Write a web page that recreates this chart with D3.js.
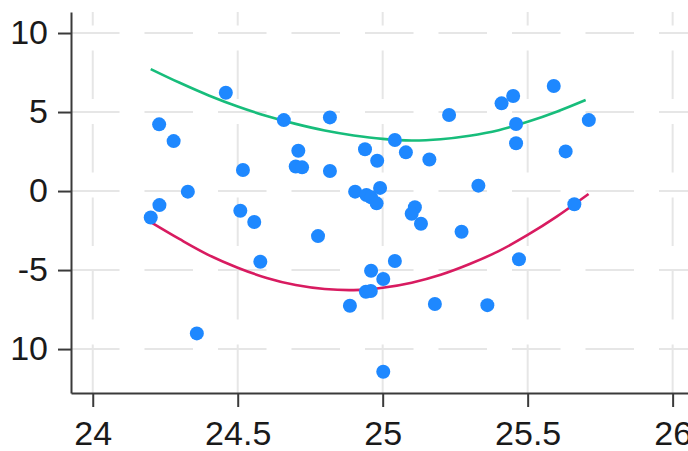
<!DOCTYPE html>
<html>
<head>
<meta charset="utf-8">
<script src="https://cdn.jsdelivr.net/npm/d3@7"></script>
<style>
  html, body { margin: 0; padding: 0; background: #fff; }
  svg { display: block; }
</style>
</head>
<body>
<svg id="chart" width="688" height="451"></svg>
<script>
// ---- data ----
const pointX = [24.459,24.229,24.279,24.518,24.328,24.230,24.200,24.509,24.557,24.659,
  24.818,24.709,24.700,24.722,24.818,24.939,24.981,25.042,25.080,25.161,
  25.229,24.905,24.944,24.960,24.991,24.979,25.111,25.100,25.132,24.777,
  25.410,25.450,25.590,25.460,25.711,25.460,25.631,25.330,25.661,25.272,
  25.470,25.361,24.578,24.359,25.042,24.960,25.002,24.942,24.959,24.887,
  25.180,25.002];
const pointY = [6.22,4.22,3.16,1.33,-0.04,-0.89,-1.67,-1.25,-1.96,4.49,
  4.66,2.55,1.55,1.50,1.27,2.64,1.92,3.23,2.45,2.00,
  4.81,-0.04,-0.25,-0.40,0.20,-0.78,-1.03,-1.44,-2.07,-2.85,
  5.55,6.01,6.65,4.24,4.49,3.02,2.51,0.34,-0.84,-2.58,
  -4.32,-7.22,-4.47,-9.01,-4.43,-5.04,-5.57,-6.37,-6.33,-7.26,
  -7.15,-11.44];

const upperX = [24.20,24.30,24.40,24.50,24.60,24.70,24.80,24.90,25.00,25.10,25.20,25.30,25.40,25.50,25.60,25.70];
const upperY = [7.72,6.85,6.05,5.35,4.75,4.25,3.83,3.52,3.30,3.20,3.28,3.50,3.85,4.38,5.02,5.76];

const lowerX = [24.20,24.30,24.40,24.50,24.60,24.70,24.80,24.90,25.00,25.10,25.20,25.30,25.40,25.50,25.60,25.71];
const lowerY = [-1.97,-3.05,-4.05,-4.85,-5.50,-5.95,-6.20,-6.27,-6.12,-5.80,-5.30,-4.62,-3.80,-2.78,-1.62,-0.19];

const xTicks = [24,24.5,25,25.5,26];
const xTickLabels = ["24","24.5","25","25.5","26"];
const yTicks = [10,5,0,-5,-10];
const yTickLabels = ["10","5","0","-5","10"];

(function () {
// ---- layout ----
const svg = d3.select("#chart");
const W = 688, H = 451;
const mLeft = 71, mTop = 12, mBottom = 393, mRight = 688;

const x = d3.scaleLinear().domain([23.925, 26.053]).range([mLeft, mRight]);
const y = d3.scaleLinear().domain([-12.78, 11.33]).range([mBottom, mTop]);

svg.append("rect").attr("width", W).attr("height", H).attr("fill", "#fff");

const gridColor = "#e6e6e6";
const dash = "48.5,25";
// horizontal grid
svg.append("g").selectAll("line").data(yTicks).join("line")
  .attr("x1", mLeft).attr("x2", mRight)
  .attr("y1", d => y(d)).attr("y2", d => y(d))
  .attr("stroke", gridColor).attr("stroke-width", 2)
  .attr("stroke-dasharray", dash);
// vertical grid (drawn bottom -> top)
svg.append("g").selectAll("line").data(xTicks).join("line")
  .attr("x1", d => x(d)).attr("x2", d => x(d))
  .attr("y1", mBottom).attr("y2", mTop)
  .attr("stroke", gridColor).attr("stroke-width", 2)
  .attr("stroke-dasharray", dash);

// fit bounds
const line = d3.line().x(d => x(d[0])).y(d => y(d[1])).curve(d3.curveCatmullRom);
svg.append("path").datum(upperX.map((v,i) => [v, upperY[i]]))
  .attr("d", line).attr("fill", "none").attr("stroke", "#17bd7b").attr("stroke-width", 2.6);
svg.append("path").datum(lowerX.map((v,i) => [v, lowerY[i]]))
  .attr("d", line).attr("fill", "none").attr("stroke", "#d81b60").attr("stroke-width", 2.6);

// points
svg.append("g").selectAll("circle").data(pointX.map((v,i) => [v, pointY[i]])).join("circle")
  .attr("cx", d => x(d[0])).attr("cy", d => y(d[1])).attr("r", 7)
  .attr("fill", "#1e88ff");

// axes
const axisColor = "#3a3a3a";
const font = "'Liberation Sans', Arial, sans-serif";
const yAxis = svg.append("g").attr("transform", `translate(${mLeft},0)`)
  .call(d3.axisLeft(y).tickValues(yTicks).tickSize(13).tickSizeOuter(0).tickPadding(10)
    .tickFormat((d,i) => yTickLabels[i]));
const xAxis = svg.append("g").attr("transform", `translate(0,${mBottom})`)
  .call(d3.axisBottom(x).tickValues(xTicks).tickSize(14).tickSizeOuter(0).tickPadding(14)
    .tickFormat((d,i) => xTickLabels[i]));

[yAxis, xAxis].forEach(g => {
  g.select(".domain").attr("stroke", axisColor).attr("stroke-width", 2);
  g.selectAll(".tick line").attr("stroke", axisColor).attr("stroke-width", 2);
  g.selectAll(".tick text").attr("fill", "#1a1a1a")
    .style("font-family", font).style("font-size", "34px");
});
})();
</script>
</body>
</html>
